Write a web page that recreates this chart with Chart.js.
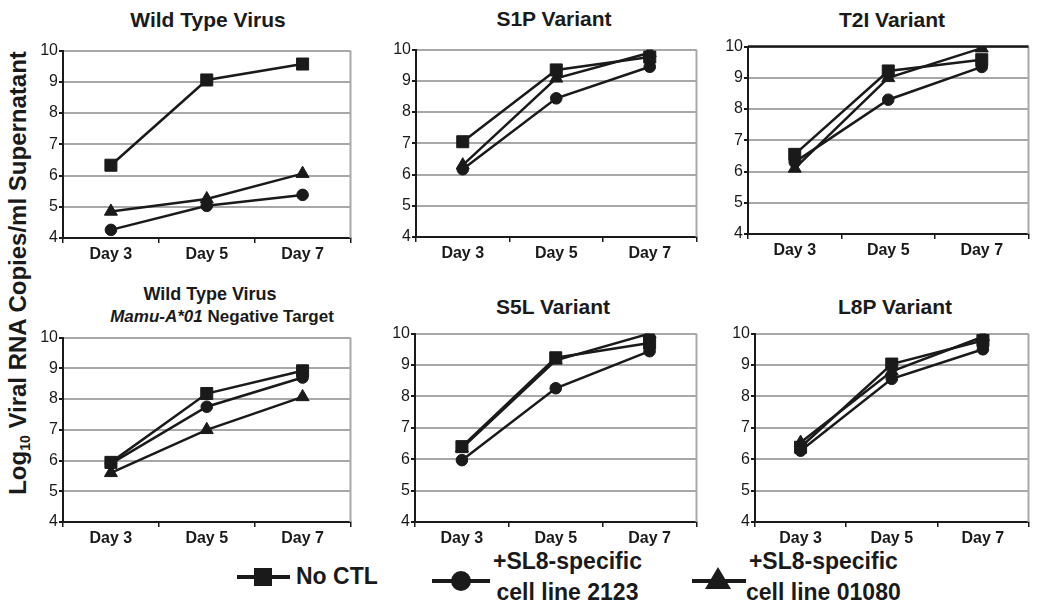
<!DOCTYPE html>
<html>
<head>
<meta charset="utf-8">
<script src="https://cdn.jsdelivr.net/npm/chart.js@4.4.1/dist/chart.umd.min.js"></script>
<style>
  body { margin: 0; width: 1038px; height: 609px; background: #fff; position: relative; overflow: hidden;
         font-family: "Liberation Sans", Arial, sans-serif; color: #1a1a1a; }
  .box { position: absolute; }
  .title { position: absolute; font-weight: bold; text-align: center; white-space: nowrap; transform: translate(-50%, -50%); }
  .ylab { position: absolute; left: -232px; top: 258px; width: 500px; height: 30px; line-height: 30px;
          text-align: center; font-weight: bold; font-size: 24px; transform: rotate(-90deg); white-space: nowrap; }
  .ylab sub { font-size: 14px; vertical-align: -4px; }
  .lg-line { position: absolute; height: 4px; background: #1a1a1a; }
  .lg-sq { position: absolute; width: 18px; height: 18px; background: #1a1a1a; }
  .lg-ci { position: absolute; width: 20px; height: 20px; border-radius: 50%; background: #1a1a1a; }
  .lg-tr { position: absolute; width: 0; height: 0; border-left: 13px solid transparent; border-right: 13px solid transparent;
           border-bottom: 22px solid #1a1a1a; }
  .lg-txt { position: absolute; font-weight: bold; font-size: 23px; line-height: 31px; text-align: center; white-space: nowrap; }
</style>
</head>
<body>
<div class="ylab">Log<sub>10</sub> Viral RNA Copies/ml Supernatant</div>

<div class="lg-line" style="left:237px;top:575px;width:53px"></div>
<div class="lg-sq" style="left:254px;top:568px"></div>
<div class="lg-txt" style="left:296px;top:561px">No CTL</div>

<div class="lg-line" style="left:432px;top:579px;width:58px"></div>
<div class="lg-ci" style="left:451px;top:571px"></div>
<div class="lg-txt" style="left:493px;top:546px">+SL8-specific<br>cell line 2123</div>

<div class="lg-line" style="left:692px;top:579px;width:54px"></div>
<div class="lg-tr" style="left:705px;top:567px"></div>
<div class="lg-txt" style="left:746px;top:546px">+SL8-specific<br>cell line 01080</div>

<script>
const days = ['Day 3', 'Day 5', 'Day 7'];
const yMin = 4, yMax = 10, yStep = 1;

// log10 viral RNA copies/ml
const wtNoCtl   = [6.33, 9.06, 9.57];
const wt2123    = [4.26, 5.03, 5.38];
const wt01080   = [4.85, 5.25, 6.06];

const s1pNoCtl  = [7.05, 9.35, 9.76];
const s1p2123   = [6.17, 8.44, 9.45];
const s1p01080  = [6.30, 9.08, 9.90];

const t2iNoCtl  = [6.55, 9.22, 9.58];
const t2i2123   = [6.30, 8.30, 9.35];
const t2i01080  = [6.10, 9.00, 9.95];

const negNoCtl  = [5.94, 8.18, 8.92];
const neg2123   = [5.90, 7.75, 8.70];
const neg01080  = [5.60, 7.00, 8.07];

const s5lNoCtl  = [6.40, 9.23, 9.70];
const s5l2123   = [5.97, 8.26, 9.44];
const s5l01080  = [6.35, 9.15, 10.0];

const l8pNoCtl  = [6.38, 9.03, 9.78];
const l8p2123   = [6.27, 8.56, 9.50];
const l8p01080  = [6.53, 8.80, 9.90];

const seriesNames = ['No CTL', '+SL8-specific cell line 2123', '+SL8-specific cell line 01080'];

const FONT = '"Liberation Sans", Arial, sans-serif';
const INK = '#1a1a1a';

// chart areas: left, right, top, bottom (px on the page) and title placement
const panels = [
  { L: 63,  R: 358,  T: 49,  B: 238, data: [wtNoCtl, wt2123, wt01080],
    titles: [{ text: 'Wild Type Virus', x: 208, y: 20, size: 21 }] },
  { L: 416, R: 704,  T: 48,  B: 237, data: [s1pNoCtl, s1p2123, s1p01080],
    titles: [{ text: 'S1P Variant', x: 554, y: 19, size: 21 }] },
  { L: 748, R: 1036, T: 45,  B: 234, data: [t2iNoCtl, t2i2123, t2i01080], darkTop: true,
    titles: [{ text: 'T2I Variant', x: 892, y: 20, size: 21 }] },
  { L: 63,  R: 358,  T: 336, B: 522, data: [negNoCtl, neg2123, neg01080],
    titles: [{ text: 'Wild Type Virus', x: 210, y: 294, size: 18 },
             { html: '<i>Mamu-A*01</i> Negative Target', x: 222, y: 317, size: 17 }] },
  { L: 415, R: 704,  T: 332, B: 522, data: [s5lNoCtl, s5l2123, s5l01080],
    titles: [{ text: 'S5L Variant', x: 553, y: 307, size: 21 }] },
  { L: 755, R: 1036, T: 332, B: 522, data: [l8pNoCtl, l8p2123, l8p01080],
    titles: [{ text: 'L8P Variant', x: 895, y: 307, size: 21 }] }
];

const markers = [
  { style: 'rect', radius: 8.5 },
  { style: 'circle', radius: 5.8 },
  { style: 'triangle', radius: 7.5 }
];

// gray frame on the top and right of the plot area
const frame = {
  id: 'frame',
  beforeDatasetsDraw(chart, args, opts) {
    const a = chart.chartArea, ctx = chart.ctx;
    ctx.save();
    ctx.lineWidth = 2;
    ctx.strokeStyle = '#a8a8a8';
    ctx.beginPath();
    ctx.moveTo(a.right, a.top);
    ctx.lineTo(a.right, a.bottom);
    ctx.stroke();
    if (opts.darkTop) {
      ctx.strokeStyle = INK;
      ctx.lineWidth = 2.5;
      ctx.beginPath();
      ctx.moveTo(a.left, a.top);
      ctx.lineTo(a.right, a.top);
      ctx.stroke();
    }
    ctx.restore();
  }
};

panels.forEach(p => {
  const yW = 38, xH = 30, padT = 9, padR = 2;
  const w = p.R - p.L + yW + padR, h = p.B - p.T + padT + xH;

  const box = document.createElement('div');
  box.className = 'box';
  box.style.left = (p.L - yW) + 'px';
  box.style.top = (p.T - padT) + 'px';
  box.style.width = w + 'px';
  box.style.height = h + 'px';
  const cv = document.createElement('canvas');
  cv.width = w; cv.height = h;
  box.appendChild(cv);
  document.body.appendChild(box);

  p.titles.forEach(t => {
    const d = document.createElement('div');
    d.className = 'title';
    d.style.left = t.x + 'px';
    d.style.top = t.y + 'px';
    d.style.fontSize = t.size + 'px';
    if (t.html) d.innerHTML = t.html; else d.textContent = t.text;
    document.body.appendChild(d);
  });

  new Chart(cv, {
    type: 'line',
    data: {
      labels: days,
      datasets: p.data.map((vals, i) => ({
        label: seriesNames[i],
        data: vals,
        borderColor: INK,
        borderWidth: 2.5,
        backgroundColor: INK,
        pointStyle: markers[i].style,
        pointRadius: markers[i].radius,
        pointBackgroundColor: INK,
        pointBorderColor: INK,
        pointBorderWidth: 1,
        tension: 0
      }))
    },
    options: {
      responsive: false,
      animation: false,
      layout: { padding: { top: padT, right: padR, left: 0, bottom: 0 } },
      plugins: {
        legend: { display: false },
        tooltip: { enabled: false },
        frame: { darkTop: !!p.darkTop }
      },
      scales: {
        x: {
          type: 'category',
          offset: true,
          grid: { offset: true, drawOnChartArea: false, drawTicks: true, tickLength: 5, tickColor: INK, lineWidth: 1.5 },
          border: { color: INK, width: 2 },
          ticks: { font: { family: FONT, size: 16, weight: 'bold' }, color: INK, padding: 2, maxRotation: 0 },
          afterFit: s => { s.height = xH; }
        },
        y: {
          min: yMin, max: yMax,
          grid: { color: '#a8a8a8', lineWidth: 2, tickColor: INK, tickLength: 4 },
          border: { color: INK, width: 2 },
          ticks: { stepSize: yStep, font: { family: FONT, size: 16 }, color: INK, padding: 1 },
          afterFit: s => { s.width = yW; }
        }
      }
    },
    plugins: [frame]
  });
});
</script>
</body>
</html>
